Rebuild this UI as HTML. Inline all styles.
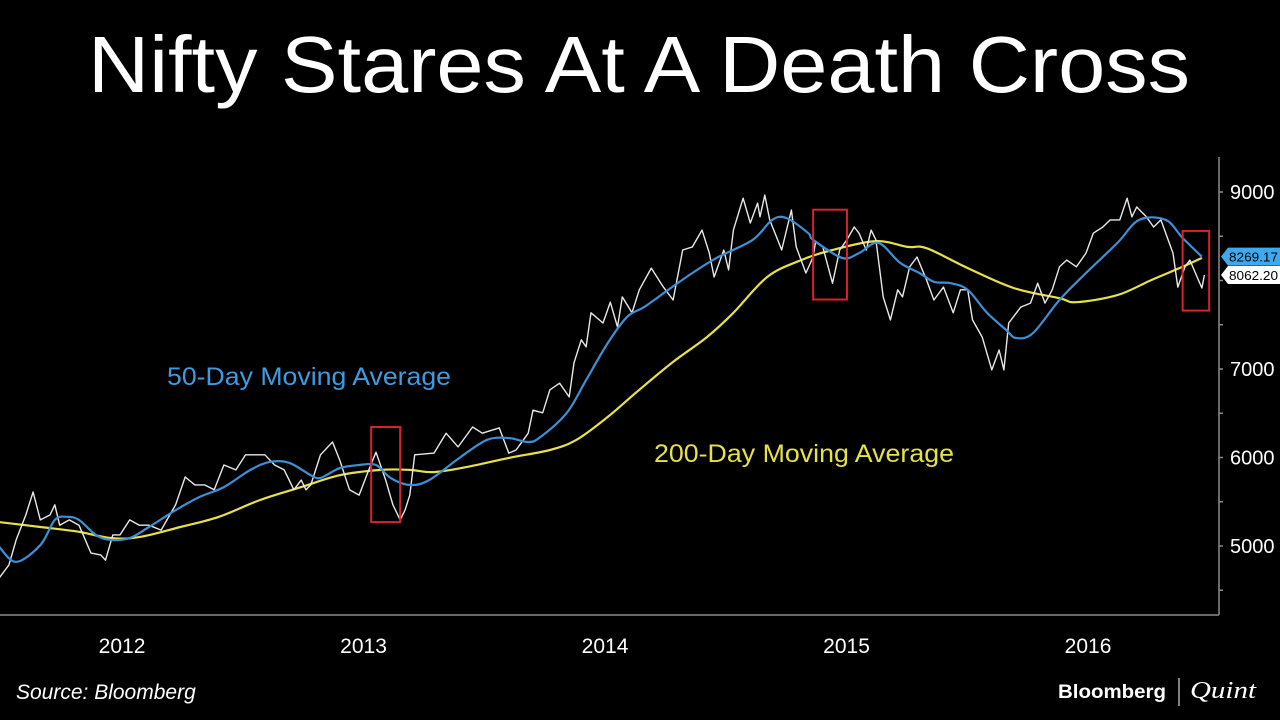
<!DOCTYPE html>
<html><head><meta charset="utf-8"><style>
html,body{margin:0;padding:0;background:#000;}
svg{display:block;font-family:"Liberation Sans",sans-serif;}
</style></head><body>
<svg id="chart" width="1280" height="720" viewBox="0 0 1280 720">
<rect width="1280" height="720" fill="#000"/>
<text x="639" y="92" fill="#fff" font-size="80" text-anchor="middle" textLength="1102" lengthAdjust="spacingAndGlyphs">Nifty Stares At A Death Cross</text>
<g id="plot"></g>
<text x="167" y="385" fill="#3d9be0" font-size="25" textLength="284" lengthAdjust="spacingAndGlyphs">50-Day Moving Average</text>
<text x="654" y="462" fill="#e6e04a" font-size="25" textLength="300" lengthAdjust="spacingAndGlyphs">200-Day Moving Average</text>
<text x="16" y="699" fill="#fff" font-size="21" font-style="italic">Source: Bloomberg</text>
<text x="1058" y="698" fill="#fff" font-size="19" font-weight="bold" textLength="108" lengthAdjust="spacingAndGlyphs">Bloomberg</text>
<line x1="1179" y1="678" x2="1179" y2="706" stroke="#fff" stroke-width="1"/>
<text x="1190" y="698" fill="#fff" font-size="24" font-style="italic" font-family="Liberation Serif, serif" textLength="66" lengthAdjust="spacingAndGlyphs">Quint</text>
</svg>
<script>
const priceDates=[2011.50,2011.54,2011.57,2011.61,2011.64,2011.67,2011.71,2011.73,2011.75,2011.79,2011.83,2011.88,2011.92,2011.94,2011.97,2012.00,2012.04,2012.08,2012.12,2012.17,2012.23,2012.27,2012.31,2012.35,2012.39,2012.43,2012.48,2012.52,2012.56,2012.60,2012.64,2012.68,2012.72,2012.75,2012.77,2012.79,2012.83,2012.88,2012.91,2012.95,2012.99,2013.03,2013.06,2013.10,2013.13,2013.16,2013.18,2013.20,2013.22,2013.30,2013.35,2013.40,2013.46,2013.50,2013.57,2013.61,2013.64,2013.69,2013.71,2013.75,2013.78,2013.82,2013.86,2013.88,2013.91,2013.93,2013.95,2014.00,2014.03,2014.06,2014.08,2014.12,2014.15,2014.20,2014.25,2014.29,2014.33,2014.37,2014.41,2014.44,2014.46,2014.50,2014.52,2014.54,2014.58,2014.61,2014.64,2014.65,2014.67,2014.69,2014.74,2014.78,2014.80,2014.84,2014.87,2014.88,2014.91,2014.95,2014.98,2015.01,2015.04,2015.06,2015.09,2015.11,2015.13,2015.16,2015.19,2015.22,2015.24,2015.27,2015.30,2015.34,2015.37,2015.41,2015.45,2015.48,2015.51,2015.53,2015.57,2015.61,2015.64,2015.66,2015.68,2015.73,2015.77,2015.80,2015.83,2015.86,2015.89,2015.92,2015.96,2016.00,2016.03,2016.07,2016.10,2016.14,2016.17,2016.19,2016.21,2016.25,2016.28,2016.31,2016.34,2016.36,2016.38,2016.41,2016.43,2016.46,2016.48,2016.49];
const priceValues=[4640,4785,5070,5350,5610,5295,5350,5465,5235,5295,5235,4920,4900,4840,5125,5125,5295,5235,5235,5180,5465,5780,5690,5690,5635,5915,5860,6030,6030,6030,5915,5860,5635,5745,5635,5690,6030,6175,5970,5635,5575,5860,6060,5745,5465,5295,5405,5575,6030,6050,6275,6120,6345,6275,6335,6050,6085,6275,6535,6505,6765,6840,6685,7070,7330,7250,7635,7520,7755,7475,7815,7635,7895,8140,7925,7780,8345,8380,8570,8310,8040,8345,8120,8570,8930,8650,8875,8720,8965,8685,8345,8795,8380,8085,8265,8435,8380,7970,8345,8460,8605,8535,8345,8570,8460,7815,7555,7895,7815,8155,8265,8005,7780,7925,7635,7895,7895,7555,7360,6990,7215,6990,7520,7700,7745,7970,7745,7895,8155,8230,8155,8310,8535,8605,8685,8685,8930,8720,8830,8720,8605,8685,8460,8310,7925,8155,8230,8040,7915,8062];
const ma50Dates=[2011.50,2011.57,2011.67,2011.73,2011.78,2011.83,2011.90,2011.96,2012.04,2012.12,2012.23,2012.33,2012.43,2012.54,2012.62,2012.70,2012.79,2012.83,2012.91,2012.99,2013.06,2013.12,2013.20,2013.28,2013.41,2013.52,2013.61,2013.69,2013.74,2013.85,2013.93,2014.02,2014.10,2014.17,2014.27,2014.37,2014.47,2014.62,2014.70,2014.76,2014.85,2014.87,2014.99,2015.06,2015.14,2015.23,2015.31,2015.37,2015.44,2015.51,2015.59,2015.67,2015.71,2015.78,2015.89,2016.00,2016.13,2016.22,2016.33,2016.40,2016.48];
const ma50Values=[4990,4820,5010,5295,5330,5295,5125,5070,5090,5215,5405,5555,5665,5860,5950,5940,5800,5770,5880,5915,5915,5770,5690,5745,6005,6200,6220,6175,6230,6505,6875,7295,7590,7700,7895,8085,8255,8460,8685,8705,8535,8460,8255,8310,8425,8200,8085,7985,7970,7895,7635,7440,7350,7405,7780,8085,8425,8685,8685,8480,8269];
const ma200Dates=[2011.50,2011.67,2011.83,2011.96,2012.08,2012.25,2012.41,2012.58,2012.75,2012.91,2013.08,2013.20,2013.30,2013.44,2013.61,2013.78,2013.89,2014.02,2014.15,2014.29,2014.43,2014.54,2014.68,2014.82,2014.95,2015.13,2015.26,2015.34,2015.51,2015.70,2015.89,2015.96,2016.13,2016.27,2016.40,2016.48];
const ma200Values=[5270,5215,5160,5090,5100,5215,5330,5520,5665,5800,5860,5860,5835,5895,5995,6085,6200,6460,6765,7080,7360,7635,8040,8230,8345,8445,8380,8365,8140,7915,7800,7755,7835,8005,8155,8255];
const yTicks=[5000,6000,7000,8000,9000];
const yTickLabels=["5000","6000","7000","","9000"];
const xTickYears=[2012,2013,2014,2015,2016];
const boxStarts=[2013.04,2014.87,2016.40];
const boxEnds=[2013.16,2015.01,2016.51];
const boxTops=[6345,8800,8560];
const boxBottoms=[5270,7785,7660];
const lastMa50=8269.17, lastPrice=8062.20;

const NS="http://www.w3.org/2000/svg";
const plot=document.getElementById('plot');
function xs(t){return (t-2011.503)*241.5;}
function ys(v){return 546-(v-5000)*0.0885;}
function mk(tag,attrs){const e=document.createElementNS(NS,tag);for(const k in attrs)e.setAttribute(k,attrs[k]);plot.appendChild(e);return e;}
function pts(d,v){return d.map((t,i)=>xs(t).toFixed(1)+','+ys(v[i]).toFixed(1)).join(' ');}
function smooth(d,v){const P=d.map((t,i)=>[xs(t),ys(v[i])]);let s='M'+P[0][0].toFixed(1)+' '+P[0][1].toFixed(1);
 for(let i=0;i<P.length-1;i++){const p0=P[Math.max(0,i-1)],p1=P[i],p2=P[i+1],p3=P[Math.min(P.length-1,i+2)];
  const c1=[p1[0]+(p2[0]-p0[0])/6,p1[1]+(p2[1]-p0[1])/6],c2=[p2[0]-(p3[0]-p1[0])/6,p2[1]-(p3[1]-p1[1])/6];
  s+=` C${c1[0].toFixed(1)} ${c1[1].toFixed(1)} ${c2[0].toFixed(1)} ${c2[1].toFixed(1)} ${p2[0].toFixed(1)} ${p2[1].toFixed(1)}`;}
 return s;}

let ax=mk('line',{x1:1219,y1:157,x2:1219,y2:615,stroke:'#8a8a8a','stroke-width':1.5});


let bx=mk('line',{x1:0,y1:615,x2:1219,y2:615,stroke:'#8a8a8a','stroke-width':1.5});


for(let v=4500;v<=9500;v+=500){const y=ys(v);if(y<160||y>612)continue;
 const tk=mk('line',{x1:1219,y1:y,x2:1223,y2:y,stroke:'#8a8a8a','stroke-width':1.5});
 
 }
yTicks.forEach((v,i)=>{if(!yTickLabels[i])return;
 const t=mk('text',{x:1230,y:ys(v)+7,fill:'#fff','font-size':20});t.textContent=yTickLabels[i];
 
 });
xTickYears.forEach(yr=>{const t=mk('text',{x:xs(yr)+2,y:653,fill:'#fff','font-size':21,'text-anchor':'middle'});t.textContent=String(yr);
 
 });

const yl=mk('path',{d:smooth(ma200Dates,ma200Values),fill:'none',stroke:'#e6e04a','stroke-width':2.2});


const pl=mk('polyline',{points:pts(priceDates,priceValues),fill:'none',stroke:'#e8e8e8','stroke-width':1.4,'stroke-linejoin':'round'});


const bl=mk('path',{d:smooth(ma50Dates,ma50Values),fill:'none',stroke:'#3d8fd6','stroke-width':2.2});



boxStarts.forEach((s,i)=>{const r=mk('rect',{x:xs(s),y:ys(boxTops[i]),width:xs(boxEnds[i])-xs(s),height:ys(boxBottoms[i])-ys(boxTops[i]),fill:'none',stroke:'#d8232f','stroke-width':2});
 
 });

function tag(v,bg,fg,name){const y=ys(v);
 const p=mk('path',{d:`M1221 ${y} L1228 ${y-9} L1280 ${y-9} L1280 ${y+9} L1228 ${y+9} Z`,fill:bg});
 
 
 const t=mk('text',{x:1229,y:y+5,fill:fg,'font-size':13,textLength:49,lengthAdjust:'spacingAndGlyphs'});t.textContent=v.toFixed(2);
 
 }
tag(lastMa50,'#3fa9f0','#000','ma50-value-tag');
tag(lastPrice,'#fff','#000','price-value-tag');
</script>
</body></html>
